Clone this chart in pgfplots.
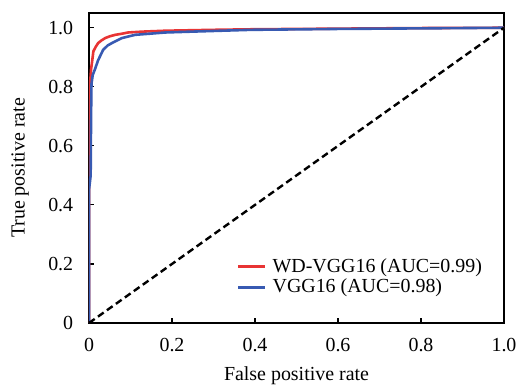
\documentclass[border=0pt]{standalone}
\usepackage{fontspec}
\setmainfont{Liberation Serif}
\usepackage{pgfplots}
\pgfplotsset{compat=1.18}
\definecolor{rocred}{RGB}{232,52,52}
\definecolor{rocblue}{RGB}{56,90,178}
\begin{document}
\fontsize{20}{24}\selectfont
\begin{tikzpicture}
\begin{axis}[
  scale only axis,
  width=415bp, height=310bp,
  xmin=0, xmax=1, ymin=0, ymax=1.05,
  xtick={0,0.2,0.4,0.6,0.8,1.0},
  xticklabels={0,0.2,0.4,0.6,0.8,1.0},
  ytick={0,0.2,0.4,0.6,0.8,1.0},
  yticklabels={0,0.2,0.4,0.6,0.8,1.0},
  tick pos=left, tick align=inside,
  major tick length=5bp,
  /pgf/number format/assume math mode=true,
  axis line style={line width=1.3bp},
  every tick/.style={black, line width=1.1bp},
  xticklabel style={yshift=-8bp},
  yticklabel style={xshift=-9bp},
  xlabel={False positive rate},
  ylabel={True positive rate},
  xlabel style={yshift=-2bp},
  ylabel style={yshift=6bp},
  legend style={draw=none, fill=none, at={(rel axis cs:0.349,0.2226)}, anchor=north west, row sep=0bp,
    /tikz/every odd column/.style={column sep=4bp},
    legend image code/.code={\draw[##1, line width=2.6bp] (0bp,0bp) -- (27bp,0bp);}},
  legend cell align=left,
]
\addplot[rocred, line width=2.6bp] coordinates {
(0,0) (0,0.5) (0.002,0.80) (0.005,0.86) (0.007,0.88) (0.0105,0.92) (0.016,0.935)
(0.022,0.948) (0.03,0.957) (0.039,0.965) (0.05,0.971) (0.063,0.976) (0.08,0.980)
(0.094,0.984) (0.13,0.987) (0.184,0.990) (0.3,0.993) (0.4,0.995) (0.6,0.997)
(0.8,0.999) (1,1)};
\addlegendentry{WD-VGG16 (AUC=0.99)}
\addplot[rocblue, line width=2.6bp] coordinates {
(0,0) (0,0.45) (0.004,0.50) (0.005,0.70) (0.006,0.81) (0.009,0.84) (0.0145,0.86)
(0.022,0.89) (0.034,0.925) (0.045,0.94) (0.055,0.948) (0.079,0.965) (0.111,0.976)
(0.184,0.984) (0.25,0.987) (0.39,0.993) (0.6,0.996) (0.8,0.998) (1,1)};
\addlegendentry{VGG16 (AUC=0.98)}
\addplot[black, line width=2.4bp, dash pattern=on 7bp off 4bp, forget plot] coordinates {(0,0) (1,1)};
\end{axis}
\pgfresetboundingbox
\path (-89bp,-62bp) rectangle (429bp,323bp);
\end{tikzpicture}
\end{document}
